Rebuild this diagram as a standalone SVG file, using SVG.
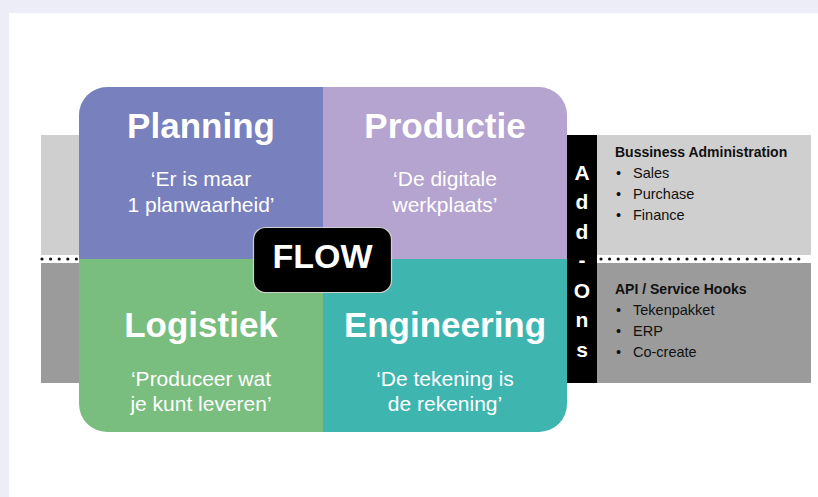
<svg xmlns="http://www.w3.org/2000/svg" width="818" height="497" viewBox="0 0 818 497">
<defs>
<style>
.title{font-family:"Liberation Sans",Arial,sans-serif;font-weight:bold;font-size:35px;fill:#fff;text-anchor:middle}
.sub{font-family:"Liberation Sans",Arial,sans-serif;font-size:21px;fill:#fff;text-anchor:middle}
.head{font-family:"Liberation Sans",Arial,sans-serif;font-weight:bold;font-size:14px;fill:#111}
.item{font-family:"Liberation Sans",Arial,sans-serif;font-size:14.5px;fill:#111}
.addon{font-family:"Liberation Sans",Arial,sans-serif;font-weight:bold;font-size:21px;fill:#fff;text-anchor:middle}
.dots{stroke:#111;stroke-width:3.2;stroke-linecap:round;stroke-dasharray:0 8.6;fill:none}
</style>
<clipPath id="boxclip"><rect x="79" y="87" width="488" height="345" rx="28" ry="28"/></clipPath>
</defs>
<rect x="0" y="0" width="818" height="497" fill="#ededf7"/>
<rect x="9" y="13" width="809" height="484" fill="#ffffff"/>
<g id="bands">
<rect x="41" y="135" width="770" height="120" fill="#cfcfcf"/>
<rect x="41" y="263" width="770" height="120" fill="#9b9b9b"/>
<line class="dots" x1="42" y1="259" x2="806" y2="259"/>
</g>
<g id="quadrants" clip-path="url(#boxclip)">
<g id="planning">
<rect x="79" y="87" width="244" height="172" fill="#7880bd"/>
</g>
<g id="productie">
<rect x="323" y="87" width="244" height="172" fill="#b5a3d0"/>
</g>
<g id="logistiek">
<rect x="79" y="259" width="244" height="173" fill="#79be7e"/>
</g>
<g id="engineering">
<rect x="323" y="259" width="244" height="173" fill="#3fb5b0"/>
</g>
</g>
<g id="planning-text">
<text class="title" x="201" y="138">Planning</text>
<text class="sub" x="201" y="186">‘Er is maar</text>
<text class="sub" x="201" y="212">1 planwaarheid’</text>
</g>
<g id="productie-text">
<text class="title" x="445" y="138">Productie</text>
<text class="sub" x="445" y="186">‘De digitale</text>
<text class="sub" x="445" y="212">werkplaats’</text>
</g>
<g id="logistiek-text">
<text class="title" x="201" y="337">Logistiek</text>
<text class="sub" x="201" y="386">‘Produceer wat</text>
<text class="sub" x="201" y="411">je kunt leveren’</text>
</g>
<g id="engineering-text">
<text class="title" x="445" y="337">Engineering</text>
<text class="sub" x="445" y="386">‘De tekening is</text>
<text class="sub" x="445" y="411">de rekening’</text>
</g>
<g id="flow">
<rect x="253.5" y="227.5" width="138" height="65" rx="12" ry="12" fill="#000" stroke="#d0d0d0" stroke-width="1.2"/>
<text x="322.5" y="268" font-family="Liberation Sans,Arial,sans-serif" font-weight="bold" font-size="34" fill="#fff" text-anchor="middle">FLOW</text>
</g>
<g id="addons">
<rect x="567" y="135" width="30" height="248" fill="#000"/>
<text class="addon" x="582" y="180">A</text>
<text class="addon" x="582" y="209">d</text>
<text class="addon" x="582" y="239">d</text>
<text class="addon" x="582" y="267">-</text>
<text class="addon" x="582" y="298">O</text>
<text class="addon" x="582" y="327">n</text>
<text class="addon" x="582" y="357">s</text>
</g>
<g id="business">
<text class="head" x="615" y="157">Bussiness Administration</text>
<text class="item" x="616" y="178">•</text><text class="item" x="633" y="178">Sales</text>
<text class="item" x="616" y="199">•</text><text class="item" x="633" y="199">Purchase</text>
<text class="item" x="616" y="220">•</text><text class="item" x="633" y="220">Finance</text>
</g>
<g id="api">
<text class="head" x="615" y="294">API / Service Hooks</text>
<text class="item" x="616" y="315">•</text><text class="item" x="633" y="315">Tekenpakket</text>
<text class="item" x="616" y="336">•</text><text class="item" x="633" y="336">ERP</text>
<text class="item" x="616" y="357">•</text><text class="item" x="633" y="357">Co-create</text>
</g>
<g id="connectors"/>
</svg>
